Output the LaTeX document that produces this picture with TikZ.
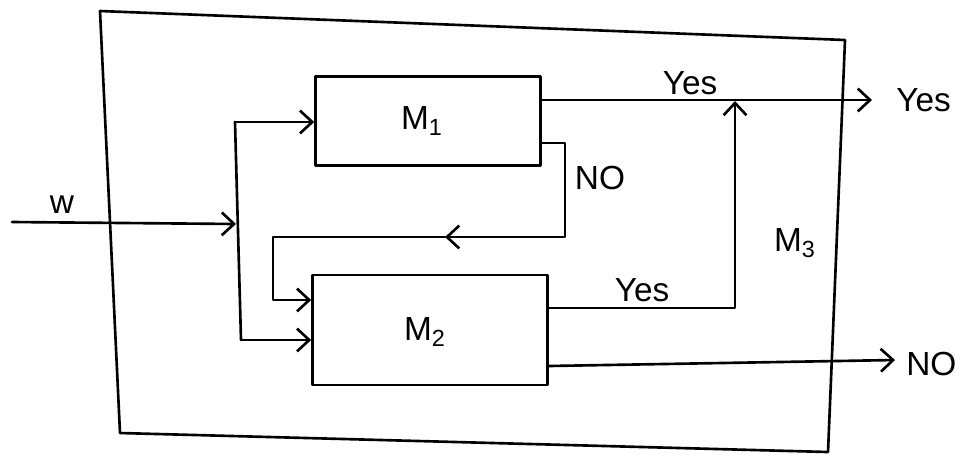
\documentclass[tikz,border=0pt]{standalone}
\usepackage{fontspec}
\setmainfont{Liberation Sans}
\usetikzlibrary{arrows.meta}
\begin{document}
\begin{tikzpicture}[x=0.02cm,y=-0.02cm,
  line width=1.5pt, line join=round, line cap=round,
  arr/.style={-{Straight Barb[length=7pt,width=13pt,line width=1.5pt]}},
  block/.style={draw, line width=1.5pt, inner sep=0pt},
  lab/.style={font=\fontsize{19}{22}\selectfont, inner sep=0pt}]
\useasboundingbox (0,0) rectangle (969,454);
% outer box M3
\coordinate (o1) at (100,11);
\coordinate (o2) at (845,40);
\coordinate (o3) at (828,452);
\coordinate (o4) at (120,433);
\draw (o1) -- (o2) -- (o3) -- (o4) -- cycle;
\node[lab] (m3) at (795,243) {M\textsubscript{3}};
% inner blocks
\node[block, minimum width=4.5cm, minimum height=1.78cm] (M1) at (428,121) {};
\node[lab] (m1) at (422,121) {M\textsubscript{1}};
\node[block, minimum width=4.7cm, minimum height=2.2cm] (M2) at (430,330) {};
\node[lab] (m2) at (425,332) {M\textsubscript{2}};
% input w
\coordinate (win) at (12,222);
\coordinate (j) at (236,224);
\coordinate (jt) at (235,122);
\coordinate (jb) at (241,340);
\draw[arr] (win) -- (j);
\node[lab] (w) at (62,205) {w};
\draw (jt) -- (jb);
\draw[arr] (jt) -- (jt -| M1.west);
\draw[arr] (jb) -- (jb -| M2.west);
% M1 yes output
\coordinate (y1) at (872,100);
\draw[arr] (M1.east |- y1) -- (y1);
\node[lab] (yesa) at (690,83) {Yes};
\node[lab, anchor=west] (yesout) at (895,100) {Yes};
% M1 no feedback
\coordinate (n0) at (0,143);
\coordinate (n1) at (565,143);
\coordinate (n2) at (565,237);
\coordinate (nm) at (445,237);
\coordinate (n3) at (273,237);
\coordinate (n4) at (273,300);
\draw[arr] (M1.east |- n0) -- (n1) -- (n2) -- (nm);
\draw[arr] (nm) -- (n3) -- (n4) -- (n4 -| M2.west);
\node[lab] (noa) at (600,178) {NO};
% M2 yes
\coordinate (s0) at (0,308);
\coordinate (s1) at (735,308);
\coordinate (s2) at (735,101);
\draw[arr] (M2.east |- s0) -- (s1) -- (s2);
\node[lab] (yesb) at (642,290) {Yes};
% M2 no
\coordinate (t0) at (0,366);
\coordinate (t1) at (895,360);
\draw[arr] (M2.east |- t0) -- (t1);
\node[lab, anchor=west] (noout) at (905,364) {NO};
\end{tikzpicture}
\end{document}
